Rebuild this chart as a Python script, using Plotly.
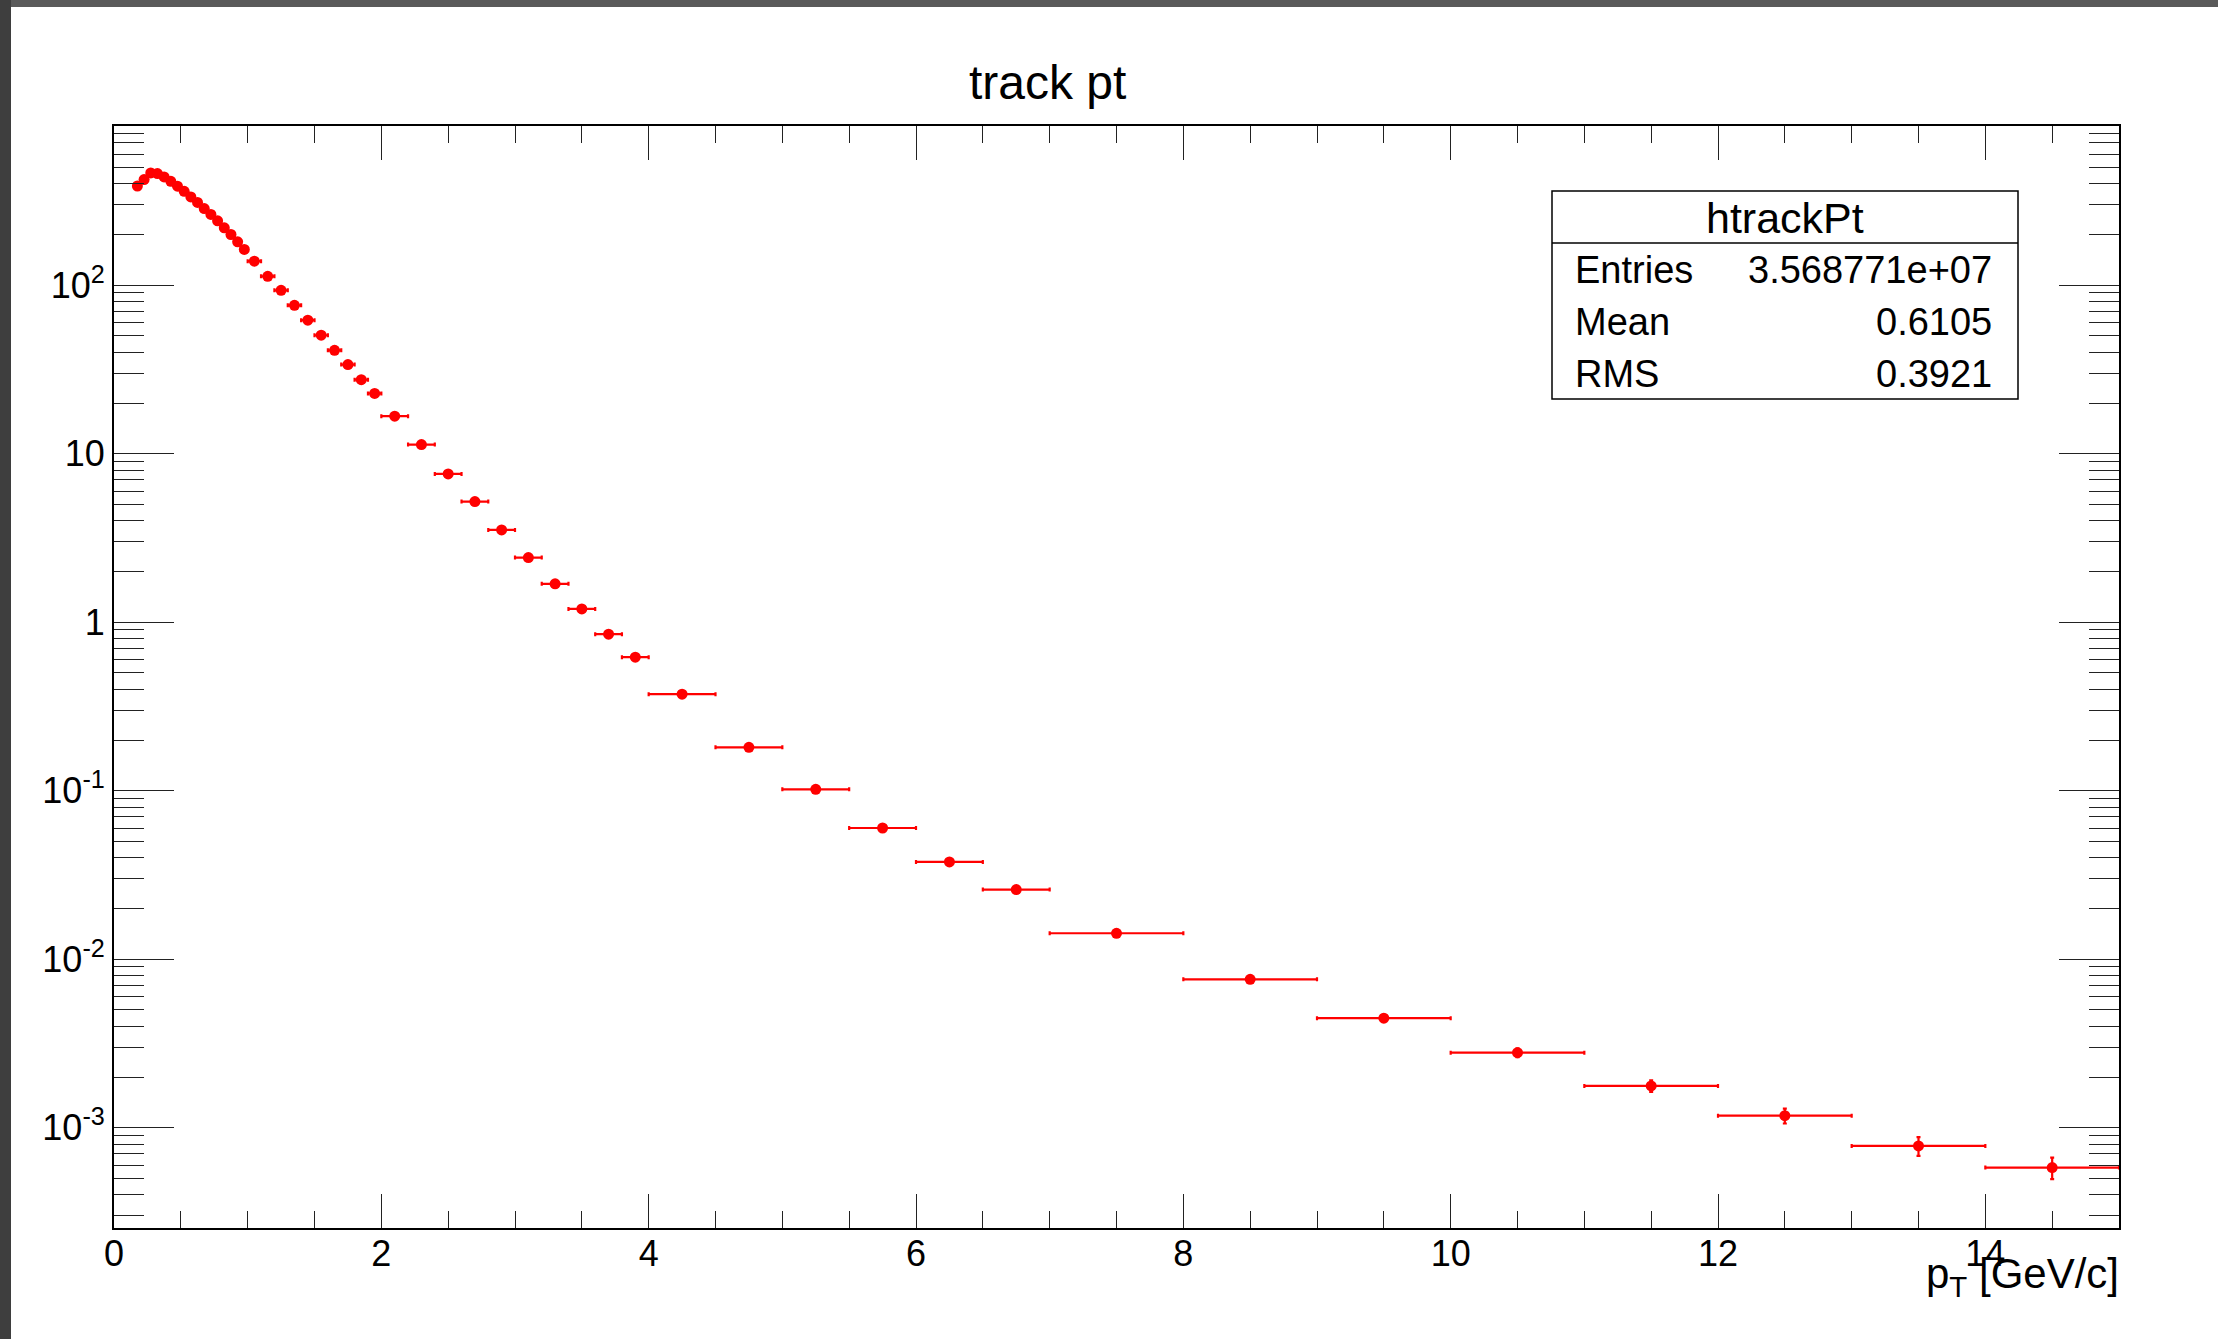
import plotly.graph_objects as go

# ---------------- data ----------------
bin_edges = [0.15, 0.20, 0.25, 0.30, 0.35, 0.40, 0.45, 0.50, 0.55, 0.60,
             0.65, 0.70, 0.75, 0.80, 0.85, 0.90, 0.95, 1.00,
             1.1, 1.2, 1.3, 1.4, 1.5, 1.6, 1.7, 1.8, 1.9, 2.0,
             2.2, 2.4, 2.6, 2.8, 3.0, 3.2, 3.4, 3.6, 3.8, 4.0,
             4.5, 5.0, 5.5, 6.0, 6.5, 7.0,
             8.0, 9.0, 10.0, 11.0, 12.0, 13.0, 14.0, 15.0]

counts = [388, 424, 464, 460, 439, 414, 387, 361, 334, 310,
          285, 263, 241, 219, 200, 181, 163,
          139, 113, 93.3, 76, 62, 50.5, 41.1, 33.8, 27.5, 22.8,
          16.7, 11.34, 7.59, 5.20, 3.53, 2.42, 1.69, 1.20, 0.849, 0.620,
          0.374, 0.181, 0.102, 0.0601, 0.0378, 0.0259,
          0.01426, 0.00760, 0.00447, 0.00279, 0.00177, 0.00118, 0.000780, 0.000580]

count_errors = [0.5, 0.5, 0.5, 0.5, 0.5, 0.5, 0.5, 0.5, 0.5, 0.5,
                0.5, 0.5, 0.5, 0.5, 0.5, 0.5, 0.5,
                0.3, 0.3, 0.2, 0.2, 0.2, 0.1, 0.1, 0.1, 0.1, 0.1,
                0.05, 0.04, 0.03, 0.02, 0.02, 0.02, 0.01, 0.01, 0.01, 0.008,
                0.004, 0.002, 0.0015, 0.001, 0.0008, 0.0006,
                0.0004, 0.0003, 0.0002, 0.00017, 0.00014, 0.00012, 0.0001, 0.000085]

x_major_ticks = [0, 2, 4, 6, 8, 10, 12, 14]
x_minor_ticks = [0.5, 1, 1.5, 2.5, 3, 3.5, 4.5, 5, 5.5, 6.5, 7, 7.5, 8.5, 9, 9.5,
                 10.5, 11, 11.5, 12.5, 13, 13.5, 14.5]
y_major_ticks = [1e-3, 1e-2, 1e-1, 1, 10, 100]
y_major_text = ["10<sup>-3</sup>", "10<sup>-2</sup>", "10<sup>-1</sup>", "1", "10", "10<sup>2</sup>"]
y_minor_ticks = [m * 10.0 ** e for e in range(-4, 3) for m in range(2, 10)]

stats_name = "htrackPt"
stats_labels = ["Entries", "Mean", "RMS"]
stats_values = ["3.568771e+07", "0.6105", "0.3921"]

# ---------------- derived bin centres / half widths ----------------
x_centres = [(a + b) / 2 for a, b in zip(bin_edges[:-1], bin_edges[1:])]
x_half = [(b - a) / 2 for a, b in zip(bin_edges[:-1], bin_edges[1:])]

# ---------------- geometry helpers (page pixels -> paper) ----------------
W, H = 2218, 1339
L, R, T, B = 114, 2119, 126, 1228


def px(x):
    return (x - L) / (R - L)


def py(y):
    return (B - y) / (B - T)


FONT = "Liberation Sans, Arial, Helvetica, sans-serif"
RED = "#ff0000"

fig = go.Figure()
fig.add_trace(go.Scatter(
    x=x_centres, y=counts, mode="markers",
    marker=dict(color=RED, size=11, symbol="circle"),
    error_x=dict(type="data", array=x_half, color=RED, thickness=2.2, width=2),
    error_y=dict(type="data", array=count_errors, color=RED, thickness=2.2, width=2),
    showlegend=False, cliponaxis=True,
))

axis_common = dict(
    showline=True, linecolor="black", linewidth=2, mirror="ticks",
    ticks="inside", tickcolor="#222222", tickwidth=1,
    showgrid=False, zeroline=False,
    tickfont=dict(family=FONT, size=36, color="black"),
)

fig.update_xaxes(
    range=[0, 15], tickmode="array", tickvals=x_major_ticks,
    ticktext=[str(v) for v in x_major_ticks], ticklen=34,
    ticklabelstandoff=-7,
    minor=dict(tickmode="array", tickvals=x_minor_ticks, ticklen=17,
               ticks="inside", tickcolor="#222222", tickwidth=1),
    **axis_common,
)
fig.update_yaxes(
    type="log", range=[-3.595, 2.945], tickmode="array",
    tickvals=y_major_ticks, ticktext=y_major_text, ticklen=60,
    minor=dict(tickmode="array", tickvals=y_minor_ticks, ticklen=30,
               ticks="inside", tickcolor="#222222", tickwidth=1),
    **axis_common,
)

shapes = [
    # screen-shot window border (dark strips on top and left)
    dict(type="rect", xref="paper", yref="paper", x0=px(0), x1=px(W), y0=py(0), y1=py(7),
         fillcolor="#5a5a5a", line=dict(width=0), layer="above"),
    dict(type="rect", xref="paper", yref="paper", x0=px(0), x1=px(11), y0=py(0), y1=py(H),
         fillcolor="#3e3e3e", line=dict(width=0), layer="above"),
    # stats box
    dict(type="rect", xref="paper", yref="paper", x0=px(1552), x1=px(2018), y0=py(191), y1=py(399),
         fillcolor="white", line=dict(color="black", width=1.5), layer="above"),
    dict(type="line", xref="paper", yref="paper", x0=px(1552), x1=px(2018), y0=py(243), y1=py(243),
         line=dict(color="black", width=1.5), layer="above"),
]

annotations = [
    dict(text="track pt", x=px(1047), y=py(83), xref="paper", yref="paper",
         xanchor="center", yanchor="middle", showarrow=False,
         font=dict(family=FONT, size=48, color="black")),
    dict(text="p<sub>T</sub> [GeV/c]", x=px(2121), y=py(1276), xref="paper", yref="paper",
         xanchor="right", yanchor="middle", showarrow=False,
         font=dict(family=FONT, size=42, color="black")),
    dict(text=stats_name, x=px(1785), y=py(218), xref="paper", yref="paper",
         xanchor="center", yanchor="middle", showarrow=False,
         font=dict(family=FONT, size=43, color="black")),
]
row_y = [270, 322, 374]
for lab, val, yy in zip(stats_labels, stats_values, row_y):
    annotations.append(dict(text=lab, x=px(1573), y=py(yy), xref="paper", yref="paper",
                            xanchor="left", yanchor="middle", showarrow=False,
                            font=dict(family=FONT, size=38, color="black")))
    annotations.append(dict(text=val, x=px(1994), y=py(yy), xref="paper", yref="paper",
                            xanchor="right", yanchor="middle", showarrow=False,
                            font=dict(family=FONT, size=38, color="black")))

fig.update_layout(
    width=W, height=H,
    margin=dict(l=L, r=W - R, t=T, b=H - B, pad=0),
    paper_bgcolor="white", plot_bgcolor="white",
    shapes=shapes, annotations=annotations,
    font=dict(family=FONT, color="black"),
)

fig.write_html("out.html")
